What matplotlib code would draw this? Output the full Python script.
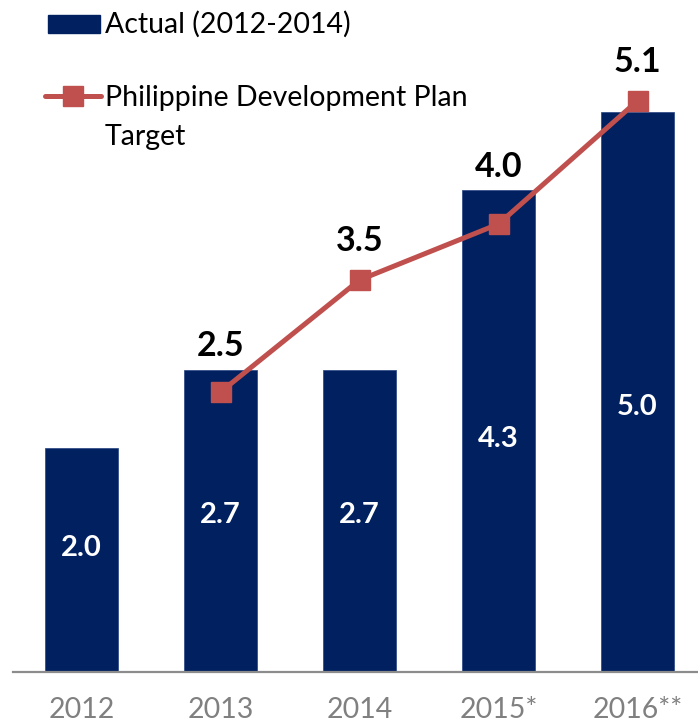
import matplotlib.pyplot as plt
from matplotlib.lines import Line2D
from matplotlib.patches import Rectangle

years = ["2012", "2013", "2014", "2015*", "2016**"]
actual = [2.0, 2.7, 2.7, 4.3, 5.0]
target_years = ["2013", "2014", "2015*", "2016**"]
target = [2.5, 3.5, 4.0, 5.1]

NAVY = "#002060"
RED = "#C0504D"
FONT = "Lato"

W, H = 698, 727
fig = plt.figure(figsize=(W / 100, H / 100), dpi=100)
ax = fig.add_axes([13 / W, (H - 672) / H, 1 - 13 / W, 672 / H])

x = list(range(len(years)))
ax.bar(x, actual, width=0.525, color=NAVY, edgecolor="#34508a", linewidth=0.6, zorder=2)

tx = [years.index(y) for y in target_years]
ax.plot(tx, target, color=RED, lw=3.6, marker="s", markersize=14.5,
        markerfacecolor=RED, markeredgecolor=RED, zorder=3)

# values inside the bars
for xi, v in zip(x, actual):
    ax.text(xi, 0.42 * v + 0.27, f"{v:.1f}", color="white", fontsize=21,
            fontweight="bold", family=FONT, ha="center", va="center", zorder=4)

# target values above the line / bar
for xi, v in zip(tx, target):
    y = max(v + 0.26, actual[xi] + 0.12)
    ax.text(xi, y, f"{v:.1f}", color="black", fontsize=24.5, fontweight="bold",
            family=FONT, ha="center", va="baseline", zorder=4)

ax.set_xlim(-0.493, 4.435)
ax.set_ylim(0, 6.0)
ax.set_yticks([])
ax.set_xticks(x)
ax.set_xticklabels(years, fontsize=20.5, family=FONT, color="#808080")
ax.tick_params(axis="x", length=0, pad=18)
for side in ("left", "right", "top"):
    ax.spines[side].set_visible(False)
ax.spines["bottom"].set_color("#8c8c8c")
ax.spines["bottom"].set_linewidth(1.6)

# legend, drawn in figure pixels
def fx(px):
    return px / W

def fy(py):
    return (H - py) / H

fig.add_artist(Rectangle((fx(48), fy(33)), fx(52), 18 / H, color=NAVY,
                         transform=fig.transFigure))
fig.text(fx(105), fy(33), "Actual (2012-2014)", fontsize=20.5, family=FONT,
         va="baseline", ha="left")
fig.add_artist(Line2D([fx(45), fx(101)], [fy(96), fy(96)], color=RED, lw=3.6,
                      solid_capstyle="round", transform=fig.transFigure))
fig.add_artist(Line2D([fx(73)], [fy(96)], marker="s", markersize=14.5, color=RED,
                      transform=fig.transFigure))
fig.text(fx(105), fy(106), "Philippine Development Plan", fontsize=20.5,
         family=FONT, va="baseline", ha="left")
fig.text(fx(105), fy(145), "Target", fontsize=20.5, family=FONT,
         va="baseline", ha="left")

fig.savefig("out.png", dpi=100)
